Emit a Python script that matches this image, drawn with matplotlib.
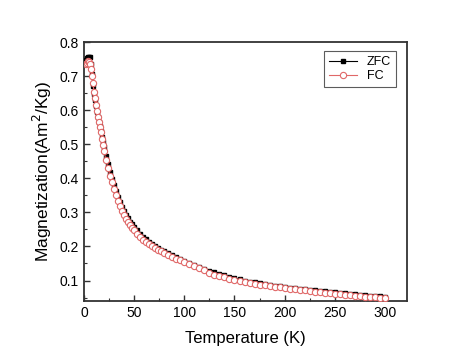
import numpy as np
import matplotlib
matplotlib.use("Agg")
import matplotlib.pyplot as plt
from matplotlib.ticker import MultipleLocator

plt.rcParams['font.family'] = ['Liberation Sans', 'DejaVu Sans']

# ZFC curve
t_zfc = [2, 3, 4, 5, 6, 7, 8, 9, 10, 11, 12, 13, 14, 15, 16, 17, 18, 19, 20,
         22, 24, 26, 28, 30, 32, 34, 36, 38, 40, 42, 44, 46, 48, 50,
         53, 56, 59, 62, 65, 68, 71, 74, 77, 80, 84, 88, 92, 96, 100,
         105, 110, 115, 120, 125, 130, 135, 140, 145, 150, 155, 160, 165, 170,
         175, 180, 185, 190, 195, 200, 205, 210, 215, 220, 225, 230, 235, 240,
         245, 250, 255, 260, 265, 270, 275, 280, 285, 290, 295, 300]
m_zfc = [0.748, 0.752, 0.755, 0.756, 0.755, 0.735, 0.705, 0.670, 0.648, 0.630,
         0.612, 0.596, 0.580, 0.566, 0.553, 0.538, 0.522, 0.507, 0.492,
         0.465, 0.441, 0.419, 0.399, 0.380, 0.362, 0.346, 0.331, 0.317, 0.304,
         0.293, 0.283, 0.273, 0.265, 0.257,
         0.247, 0.237, 0.229, 0.221, 0.214, 0.208, 0.202, 0.196, 0.191, 0.186,
         0.180, 0.174, 0.168, 0.163, 0.158,
         0.151, 0.145, 0.139, 0.134, 0.129, 0.124, 0.119, 0.115, 0.111, 0.107,
         0.104, 0.100, 0.097, 0.095, 0.092, 0.090, 0.087, 0.085, 0.083, 0.081,
         0.079, 0.077, 0.076, 0.074, 0.072, 0.071, 0.069, 0.068, 0.066, 0.065,
         0.063, 0.062, 0.061, 0.060, 0.058, 0.057, 0.056, 0.055, 0.054, 0.053]

# FC curve
t_fc = list(t_zfc)
m_fc = [0.735, 0.740, 0.744, 0.742, 0.735, 0.720, 0.700, 0.680, 0.655, 0.635,
        0.615, 0.598, 0.580, 0.565, 0.550, 0.535, 0.515, 0.498, 0.480,
        0.453, 0.430, 0.408, 0.388, 0.368, 0.350, 0.333, 0.318, 0.304, 0.292,
        0.281, 0.271, 0.262, 0.254, 0.247,
        0.237, 0.228, 0.220, 0.213, 0.207, 0.201, 0.196, 0.191, 0.186, 0.181,
        0.175, 0.169, 0.164, 0.159, 0.154,
        0.148, 0.142, 0.136, 0.131, 0.122, 0.117, 0.113, 0.109, 0.105, 0.102,
        0.098, 0.095, 0.093, 0.090, 0.088, 0.086, 0.084, 0.082, 0.080, 0.078,
        0.076, 0.074, 0.073, 0.071, 0.069, 0.067, 0.066, 0.064, 0.063, 0.061,
        0.060, 0.058, 0.057, 0.056, 0.055, 0.053, 0.052, 0.051, 0.050, 0.049]

fig = plt.figure(figsize=(4.74, 3.6), dpi=100)
ax = fig.add_axes([0.177, 0.164, 0.682, 0.719])

ax.plot(t_zfc, m_zfc, color='black', lw=0.8, marker='s', ms=3.5,
        mfc='black', mec='black', label='ZFC', zorder=3)
ax.plot(t_fc, m_fc, color='#e06868', lw=0.8, marker='o', ms=4.5,
        mfc='white', mec='#e06868', mew=0.8, label='FC', zorder=4)

ax.set_xlim(0, 322)
ax.set_ylim(0.04, 0.8)
ax.xaxis.set_major_locator(MultipleLocator(50))
ax.xaxis.set_minor_locator(MultipleLocator(25))
ax.yaxis.set_minor_locator(MultipleLocator(0.05))
ax.set_yticks(np.arange(0.1, 0.81, 0.1))
ax.set_yticklabels(['0.1', '0.2', '0.3', '0.4', '0.5', '0.6', '0.7', '0.8'])
ax.tick_params(which='both', direction='in', top=False, right=False,
               labelsize=10, color='#333333')
ax.tick_params(which='major', length=4, width=1)
ax.tick_params(which='minor', length=2.5, width=0.8)
for s in ax.spines.values():
    s.set_linewidth(1.3)
    s.set_color('#333333')

ax.set_xlabel('Temperature (K)', fontsize=12, labelpad=8)
ax.set_ylabel('Magnetization(Am$^2$/Kg)', fontsize=12.5, labelpad=4)

leg = ax.legend(loc='upper right', bbox_to_anchor=(0.985, 0.99), fontsize=9,
                frameon=True, fancybox=False, edgecolor='#333333',
                handlelength=2.2, borderpad=0.4, labelspacing=0.2)
leg.get_frame().set_linewidth(0.8)

fig.savefig('out.png', dpi=100)
